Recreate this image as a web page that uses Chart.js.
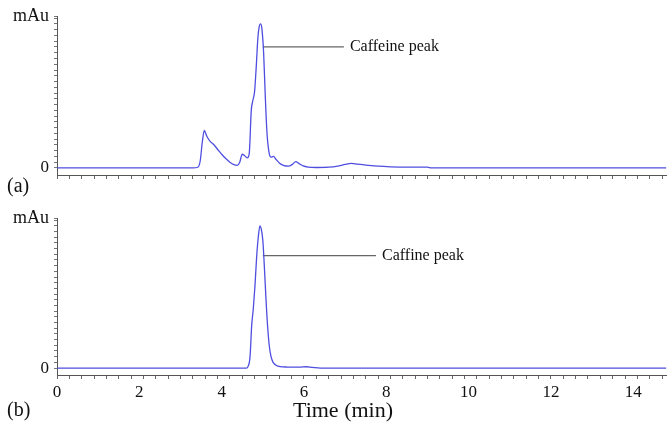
<!DOCTYPE html>
<html>
<head>
<meta charset="utf-8">
<script src="https://cdn.jsdelivr.net/npm/chart.js@4.4.1/dist/chart.umd.min.js"></script>
<style>
html,body{margin:0;padding:0;background:#fff;}
#wrap{position:relative;width:667px;height:431px;overflow:hidden;}
#c1{position:absolute;left:0;top:0;}
#c2{position:absolute;left:0;top:202px;}
</style>
</head>
<body>
<div id="wrap">
<canvas id="c1" width="667" height="202"></canvas>
<canvas id="c2" width="667" height="229"></canvas>
</div>
<script>
// ---- data ----
const timeA = [0, 3.3, 3.42, 3.48, 3.53, 3.58, 3.64, 3.72, 3.8, 3.9, 4.0, 4.1, 4.2, 4.3, 4.38, 4.44, 4.5, 4.56, 4.62, 4.67, 4.72, 4.76, 4.8, 4.84, 4.88, 4.92, 4.95, 4.98, 5.02, 5.06, 5.1, 5.15, 5.2, 5.26, 5.32, 5.4, 5.5, 5.62, 5.72, 5.8, 5.88, 5.98, 6.1, 6.3, 6.6, 6.85, 7.0, 7.15, 7.3, 7.5, 7.8, 8.1, 8.6, 9.0, 9.1, 14.8];
const signalA = [0, 0, 0.5, 5, 18, 26, 22, 18.5, 16.5, 13, 9.5, 6.5, 4, 2.3, 1.8, 4, 9.5, 8.5, 7, 10, 40, 47, 53, 70, 90, 99, 100, 96, 80, 50, 25, 11, 7.5, 8, 6, 3.5, 1.8, 1.2, 2.5, 4.4, 3, 1.4, 0.6, 0.3, 0.5, 1.5, 2.5, 3.2, 2.6, 2, 1.2, 0.8, 0.6, 0.5, 0, 0];
const timeB = [0, 4.6, 4.64, 4.69, 4.73, 4.77, 4.81, 4.85, 4.89, 4.93, 4.96, 5.0, 5.04, 5.08, 5.12, 5.16, 5.2, 5.25, 5.32, 5.42, 5.6, 5.9, 6.05, 6.2, 6.4, 14.8];
const signalB = [0, 0, 1, 8, 30, 42, 58, 78, 92, 100, 98, 90, 70, 47, 28, 15, 8, 4, 2, 1, 0.7, 0.6, 0.9, 0.5, 0, 0];
const xTickLabels = [0, 2, 4, 6, 8, 10, 12, 14];
const leaderA = {label: 'Caffeine peak', x: [5.0, 6.97], y: 84};
const leaderB = {label: 'Caffine peak', x: [5.0, 7.75], y: 79};

const X_MAX = 14.82, Y_MIN = -4.9, Y_MAX = 105.5;
const SERIF = '"Liberation Serif", "DejaVu Serif", serif';
const AXIS = '#555';

function xTicks() {
  const t = [];
  for (let i = 0; i * 0.3 <= X_MAX + 1e-9; i++) t.push(+(i * 0.3).toFixed(2));
  xTickLabels.forEach(v => { if (!t.some(a => Math.abs(a - v) < 1e-6)) t.push(v); });
  return t.sort((a, b) => a - b);
}
function isLabel(v) { return xTickLabels.some(a => Math.abs(a - v) < 1e-6); }
function isMinor(v) { return Math.abs(v / 0.3 - Math.round(v / 0.3)) < 1e-6; }
function yTicks() {
  const t = [];
  for (let v = 0; v <= 104; v += 4) t.push(v);
  t.push(Y_MAX);
  return t;
}

const textPlugin = {
  id: 'texts',
  afterDraw(chart, args, opts) {
    const ctx = chart.ctx, xs = chart.scales.x, ys = chart.scales.y;
    ctx.save();
    ctx.fillStyle = '#111';
    ctx.textBaseline = 'middle';
    ctx.font = '16px ' + SERIF;
    ctx.textAlign = 'left';
    const L = opts.leader;
    ctx.fillText(L.label, xs.getPixelForValue(L.x[1]) + 6, ys.getPixelForValue(L.y));
    ctx.font = '20px ' + SERIF;
    ctx.fillText(opts.panel, 7, opts.panelY);
    if (opts.title) {
      ctx.font = '22px ' + SERIF;
      ctx.textAlign = 'center';
      ctx.fillText(opts.title, 343, opts.panelY);
    }
    ctx.restore();
  }
};

function makeChart(id, times, values, leader, showLabels, xHeight, panel, panelY, title) {
  const pts = times.map((t, i) => ({x: t, y: values[i]}));
  return new Chart(document.getElementById(id), {
    type: 'line',
    data: {
      datasets: [
        {data: pts, borderColor: '#4e4ee0', borderWidth: 1.3, pointRadius: 0, fill: false,
         cubicInterpolationMode: 'monotone'},
        {data: leader.x.map(x => ({x: x, y: leader.y})), borderColor: '#666', borderWidth: 1.2,
         pointRadius: 0, fill: false, tension: 0}
      ]
    },
    options: {
      responsive: false, animation: false, events: [],
      layout: {padding: {top: 16, left: 0, right: 0, bottom: 0}},
      plugins: {legend: {display: false}, tooltip: {enabled: false},
        texts: {leader: leader, panel: panel, panelY: panelY, title: title}},
      scales: {
        x: {
          type: 'linear', min: 0, max: X_MAX,
          afterBuildTicks: s => { s.ticks = xTicks().map(v => ({value: v})); },
          afterFit: s => { s.height = xHeight; },
          border: {display: true, color: AXIS, width: 1},
          grid: {drawOnChartArea: false, drawTicks: true, tickLength: 4,
                 tickColor: c => (c.tick && isMinor(c.tick.value)) ? '#666' : 'rgba(0,0,0,0)'},
          ticks: {autoSkip: false, maxRotation: 0, padding: 3, color: '#111',
                  font: {family: SERIF, size: 17},
                  callback: v => (showLabels && isLabel(v)) ? String(Math.round(v)) : ''}
        },
        y: {
          min: Y_MIN, max: Y_MAX,
          afterBuildTicks: s => { s.ticks = yTicks().map(v => ({value: v})); },
          afterFit: s => { s.width = 57; },
          border: {display: true, color: AXIS, width: 1},
          grid: {drawOnChartArea: false, drawTicks: true, tickLength: 3, tickColor: '#777'},
          ticks: {autoSkip: false, padding: 5, color: '#111',
                  font: c => ({family: SERIF, size: (c.tick && c.tick.value === Y_MAX) ? 18 : 17}),
                  callback: v => v === 0 ? '0' : (v === Y_MAX ? 'mAu' : '')}
        }
      }
    },
    plugins: [textPlugin]
  });
}

makeChart('c1', timeA, signalA, leaderA, false, 202 - 16 - 159, '(a)', 187, null);
makeChart('c2', timeB, signalB, leaderB, true, 229 - 16 - 157, '(b)', 209, 'Time (min)');
</script>
</body>
</html>
